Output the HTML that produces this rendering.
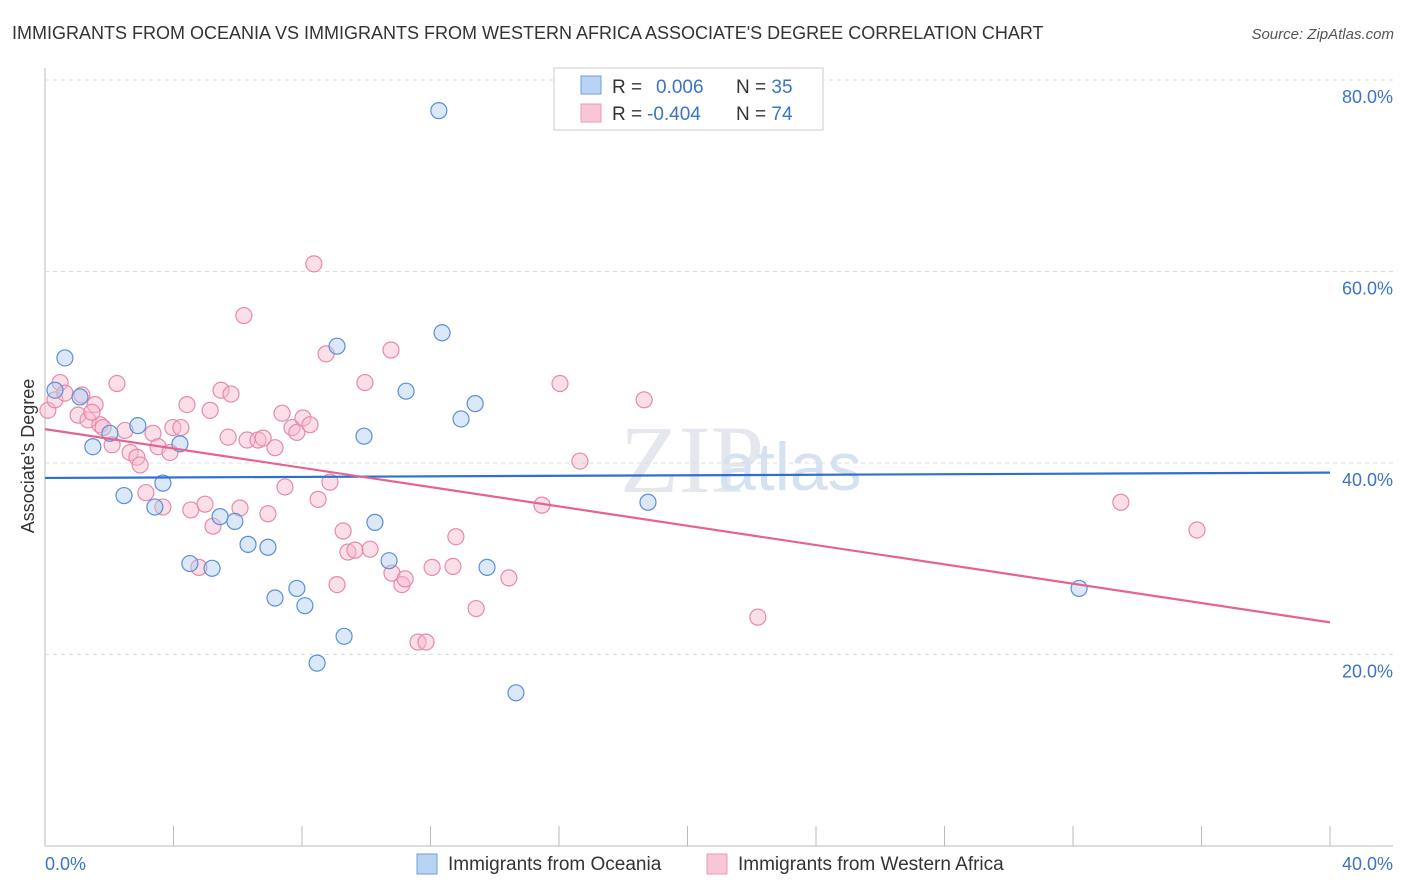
<!DOCTYPE html>
<html><head><meta charset="utf-8"><style>
body{margin:0;background:#fff;font-family:"Liberation Sans",sans-serif;}
svg{display:block}
</style></head><body>
<svg id="c" width="1406" height="892" xmlns="http://www.w3.org/2000/svg">
<text x="12" y="39" font-size="18" fill="#333">IMMIGRANTS FROM OCEANIA VS IMMIGRANTS FROM WESTERN AFRICA ASSOCIATE'S DEGREE CORRELATION CHART</text>
<text x="1394" y="39" font-size="15" fill="#555" font-style="italic" text-anchor="end">Source: ZipAtlas.com</text>
<text x="34" y="456" font-size="18" fill="#333" text-anchor="middle" transform="rotate(-90 34 456)">Associate's Degree</text>
<text x="620" y="492" font-size="96" fill="#e4e8ee" font-family="Liberation Serif,serif">ZIP</text>
<text x="718" y="490" font-size="68" fill="#d6e2f2">atlas</text>
<g id="grid"></g><g id="pts"></g><g id="lines"></g>
<g>
<rect x="554" y="68" width="269" height="62" fill="#fff" stroke="#ccc"/>
<rect x="581" y="76" width="20" height="18" fill="#b9d3f3" stroke="#6e9fe0"/>
<rect x="581" y="104" width="20" height="18" fill="#f8c6d5" stroke="#eb9ab3"/>
<text x="612" y="93" font-size="19" fill="#333">R = <tspan fill="#3a73c8" x="656">0.006</tspan><tspan x="736" fill="#333">N = </tspan><tspan fill="#3a73c8">35</tspan></text>
<text x="612" y="120" font-size="19" fill="#333">R = <tspan fill="#3a73c8" x="647">-0.404</tspan><tspan x="736" fill="#333">N = </tspan><tspan fill="#3a73c8">74</tspan></text>
</g>
<text x="45" y="870" font-size="18" fill="#3a73c8">0.0%</text>
<text x="1393" y="870" font-size="18" fill="#3a73c8" text-anchor="end">40.0%</text>
<g>
<rect x="417" y="854" width="20" height="20" fill="#b9d3f3" stroke="#6e9fe0"/>
<text x="448" y="870" font-size="19" fill="#333">Immigrants from Oceania</text>
<rect x="707" y="854" width="20" height="20" fill="#f8c6d5" stroke="#eb9ab3"/>
<text x="738" y="870" font-size="19" fill="#333">Immigrants from Western Africa</text>
</g>
</svg>
<script>
const yTicks=[20,40,60,80];
const yTickLabels=["20.0%","40.0%","60.0%","80.0%"];
const xTicks=[0,4,8,12,16,20,24,28,32,36,40];
const blueX=[0.62,0.31,1.09,1.49,2.02,2.89,2.46,3.42,3.67,4.20,4.51,5.20,5.45,5.91,6.32,6.94,7.16,7.84,8.09,8.47,9.09,9.31,9.93,10.27,10.71,11.24,12.26,12.36,12.95,13.39,13.76,14.66,18.77,32.19,18.12];
const blueY=[50.97,47.6,46.9,41.7,43.1,43.9,36.6,35.4,37.9,42.0,29.5,29.0,34.4,33.9,31.5,31.2,25.9,26.9,25.1,19.1,52.2,21.9,42.8,33.8,29.8,47.5,76.8,53.6,44.6,46.2,29.1,16.0,35.9,26.9,79.8];
const pinkX=[0.09,0.31,0.47,0.62,1.03,1.15,1.34,1.56,1.71,1.81,2.09,2.24,2.49,2.65,2.86,2.96,3.14,3.36,3.52,3.67,3.89,3.98,4.23,4.42,4.54,4.79,4.98,5.14,5.23,5.70,5.48,5.79,6.07,6.19,6.29,6.63,6.79,6.94,7.16,7.38,7.47,7.69,7.84,8.03,8.25,8.37,8.50,8.75,8.87,9.09,9.28,9.43,9.65,9.96,10.12,10.77,10.80,11.11,11.21,11.61,11.86,12.05,12.70,12.79,13.42,14.44,15.47,16.03,16.65,18.65,22.19,33.49,35.86,1.46];
const pinkY=[45.5,46.6,48.4,47.3,45.0,47.1,44.5,46.1,44.0,43.7,41.9,48.3,43.4,41.1,40.6,39.8,36.9,43.1,41.7,35.4,41.1,43.7,43.7,46.1,35.1,29.1,35.7,45.5,33.4,42.7,47.6,47.2,35.3,55.4,42.4,42.4,42.6,34.7,41.6,45.2,37.5,43.7,43.2,44.7,44.0,60.8,36.2,51.4,38.0,27.3,32.9,30.7,30.9,48.4,31.0,51.8,28.5,27.3,27.9,21.3,21.3,29.1,29.2,32.3,24.8,28.0,35.6,48.3,40.2,46.6,23.9,35.9,33.0,45.3];
const X0=45,X1=1330,Y0=846,Y80=80;
const sx=v=>X0+(X1-X0)*v/40;
const sy=v=>Y0-(Y0-Y80)*v/80;
const NS="http://www.w3.org/2000/svg";
function mk(t,a,p){const e=document.createElementNS(NS,t);for(const k in a)e.setAttribute(k,a[k]);p.appendChild(e);return e;}
const grid=document.getElementById('grid');
mk('line',{x1:45,y1:68,x2:45,y2:846,stroke:'#bbb'},grid);
mk('line',{x1:45,y1:846,x2:1393,y2:846,stroke:'#bbb'},grid);
yTicks.forEach((t,i)=>{
 const g=mk('line',{x1:45,y1:sy(t),x2:1393,y2:sy(t),stroke:'#ddd','stroke-dasharray':'4,4'},grid);
 
 
 const tx=mk('text',{x:1393,y:sy(t)+23,'font-size':18,fill:'#3a73c8','text-anchor':'end'},grid);
 tx.textContent=yTickLabels[i];
 
 
});
xTicks.forEach(t=>{
 const l=mk('line',{x1:sx(t),y1:826,x2:sx(t),y2:846,stroke:'#bbb'},grid);
 
 
});
const pts=document.getElementById('pts');
function dots(xs,ys,fill,stroke,name){
 xs.forEach((x,i)=>{
  const c=mk('circle',{cx:sx(x),cy:sy(ys[i]),r:8,fill:fill,'fill-opacity':0.45,stroke:stroke,'stroke-width':1.2},pts);
  
  
 });
}
dots(pinkX,pinkY,'#f6b8cb','#e889a8','point-western-africa');
dots(blueX,blueY,'#aecbf0','#5b8fd8','point-oceania');
function fit(xs,ys){const n=xs.length;let mx=0,my=0;for(let i=0;i<n;i++){mx+=xs[i];my+=ys[i];}mx/=n;my/=n;let sxy=0,sxx=0;for(let i=0;i<n;i++){sxy+=(xs[i]-mx)*(ys[i]-my);sxx+=(xs[i]-mx)**2;}const b=sxy/sxx;return [my-b*mx,b];}
const lines=document.getElementById('lines');
[[blueX,blueY,'#2f6fd0','trend-line-oceania'],[pinkX,pinkY,'#e5648f','trend-line-western-africa']].forEach(([xs,ys,col,nm])=>{
 const [a,b]=fit(xs,ys);
 const l=mk('line',{x1:sx(0),y1:sy(a),x2:sx(40),y2:sy(a+b*40),stroke:col,'stroke-width':2.2},lines);
 
 
});
</script>
</body></html>
